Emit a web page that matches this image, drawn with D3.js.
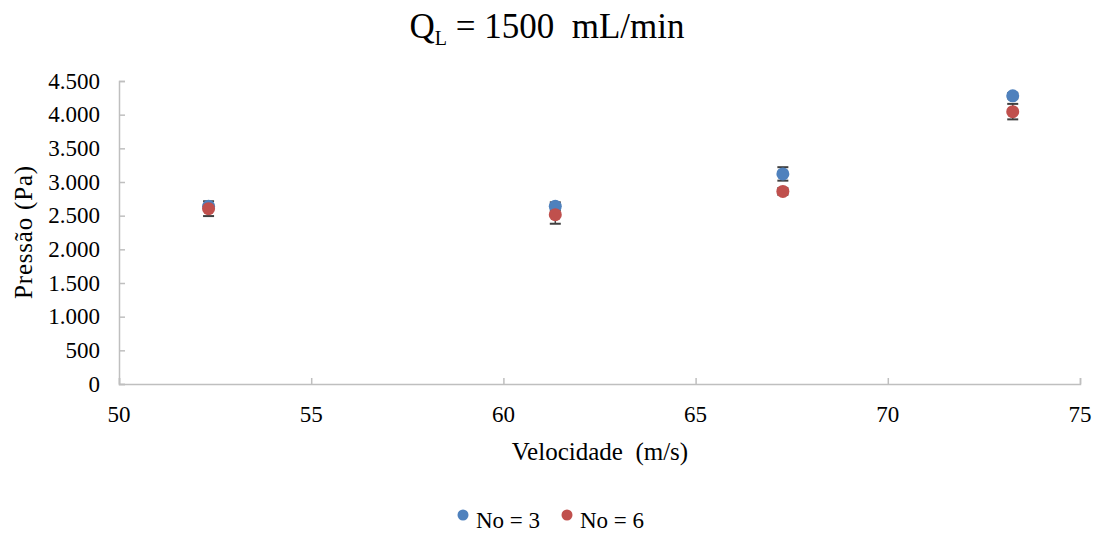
<!DOCTYPE html>
<html>
<head>
<meta charset="utf-8">
<script src="https://cdn.jsdelivr.net/npm/d3@7"></script>
<style>
  html, body { margin: 0; padding: 0; background: #fff; }
  svg { display: block; }
  svg text { font-family: "Liberation Serif", "Times New Roman", serif; fill: #000; }
</style>
</head>
<body>
<svg id="chart" width="1101" height="535"></svg>
<script>
// Velocity (m/s) at each operating point
const velocity = [52.33, 61.35, 67.27, 73.25];
// Pressure (Pa) and error bar half-width for each series
const pressureNo3 = [2638, 2638, 3120, 4280];
const errorNo3 = [35, 60, 100, 40];
const pressureNo6 = [2604, 2515, 2860, 4045];
const errorNo6 = [110, 135, 50, 115];
const xTicks = [50, 55, 60, 65, 70, 75];
const yTicks = [0, 500, 1000, 1500, 2000, 2500, 3000, 3500, 4000, 4500];
const seriesNames = ["No = 3", "No = 6"];
const seriesColors = ["#4F81BD", "#C0504D"];

const SERIF = "'Liberation Serif', 'Times New Roman', serif";
const svg = d3.select("#chart");

const x = d3.scaleLinear().domain([50, 75]).range([119, 1080]);
const y = d3.scaleLinear().domain([0, 4500]).range([384, 81]);

const axisColor = "#BFBFBF";
const fmt = d => d3.format(",")(d).replace(/,/g, ".");

// Title with subscript
const title = svg.append("text")
  .attr("x", 547).attr("y", 38)
  .attr("text-anchor", "middle")
  .attr("font-family", SERIF)
  .attr("font-size", 35)
  .attr("xml:space", "preserve");
title.append("tspan").text("Q");
title.append("tspan").attr("font-size", 20).attr("dy", 7).text("L");
title.append("tspan").attr("dy", -7).text(" = 1500  mL/min");

// Y axis (ticks point into the plot)
const yAxis = svg.append("g")
  .attr("transform", `translate(${x(50)},0)`)
  .call(d3.axisRight(y).tickValues(yTicks).tickSize(6).tickFormat(""));
yAxis.select(".domain").attr("stroke", axisColor).attr("stroke-width", 1.5);
yAxis.selectAll(".tick line").attr("stroke", axisColor).attr("stroke-width", 1.5);

svg.append("g").selectAll("text")
  .data(yTicks).join("text")
  .attr("x", 100).attr("y", d => y(d) + 7.5)
  .attr("text-anchor", "end")
  .attr("font-family", SERIF)
  .attr("font-size", 23)
  .text(fmt);

// X axis (ticks point into the plot)
const xAxis = svg.append("g")
  .attr("transform", `translate(0,${y(0)})`)
  .call(d3.axisTop(x).tickValues(xTicks).tickSize(6).tickFormat(""));
xAxis.select(".domain").attr("stroke", axisColor).attr("stroke-width", 1.5);
xAxis.selectAll(".tick line").attr("stroke", axisColor).attr("stroke-width", 1.5);

svg.append("g").selectAll("text")
  .data(xTicks).join("text")
  .attr("x", d => x(d)).attr("y", 422)
  .attr("text-anchor", "middle")
  .attr("font-family", SERIF)
  .attr("font-size", 23)
  .text(d => d);

// Axis titles
svg.append("text")
  .attr("x", 600).attr("y", 460)
  .attr("text-anchor", "middle")
  .attr("font-family", SERIF)
  .attr("font-size", 25)
  .attr("xml:space", "preserve")
  .text("Velocidade  (m/s)");

svg.append("text")
  .attr("transform", "translate(32,232) rotate(-90)")
  .attr("text-anchor", "middle")
  .attr("font-family", SERIF)
  .attr("font-size", 25)
  .attr("letter-spacing", 0.8)
  .text("Pressão (Pa)");

// Series: error bars first, markers on top
const series = [
  { name: seriesNames[0], color: seriesColors[0], values: pressureNo3, errors: errorNo3 },
  { name: seriesNames[1], color: seriesColors[1], values: pressureNo6, errors: errorNo6 }
];

const errColor = "#404040";
const capHalf = 5.5;

series.forEach(s => {
  const g = svg.append("g");
  const pts = velocity.map((v, i) => ({ v, p: s.values[i], e: s.errors[i] }));
  g.selectAll("line.stem").data(pts).join("line")
    .attr("x1", d => x(d.v)).attr("x2", d => x(d.v))
    .attr("y1", d => y(d.p + d.e)).attr("y2", d => y(d.p - d.e))
    .attr("stroke", errColor).attr("stroke-width", 1.5);
  g.selectAll("line.capTop").data(pts).join("line")
    .attr("x1", d => x(d.v) - capHalf).attr("x2", d => x(d.v) + capHalf)
    .attr("y1", d => y(d.p + d.e)).attr("y2", d => y(d.p + d.e))
    .attr("stroke", errColor).attr("stroke-width", 2);
  g.selectAll("line.capBot").data(pts).join("line")
    .attr("x1", d => x(d.v) - capHalf).attr("x2", d => x(d.v) + capHalf)
    .attr("y1", d => y(d.p - d.e)).attr("y2", d => y(d.p - d.e))
    .attr("stroke", errColor).attr("stroke-width", 2);
});

series.forEach(s => {
  svg.append("g").selectAll("circle")
    .data(velocity.map((v, i) => ({ v, p: s.values[i] })))
    .join("circle")
    .attr("cx", d => x(d.v)).attr("cy", d => y(d.p))
    .attr("r", 6.5)
    .attr("fill", s.color);
});

// Legend
const legendItems = [
  { name: seriesNames[0], color: seriesColors[0], cx: 463 },
  { name: seriesNames[1], color: seriesColors[1], cx: 567 }
];
const lg = svg.append("g");
legendItems.forEach(it => {
  lg.append("circle").attr("cx", it.cx).attr("cy", 515).attr("r", 5.5).attr("fill", it.color);
  lg.append("text").attr("x", it.cx + 13).attr("y", 528)
    .attr("font-family", SERIF)
    .attr("font-size", 23).text(it.name);
});
</script>
</body>
</html>
